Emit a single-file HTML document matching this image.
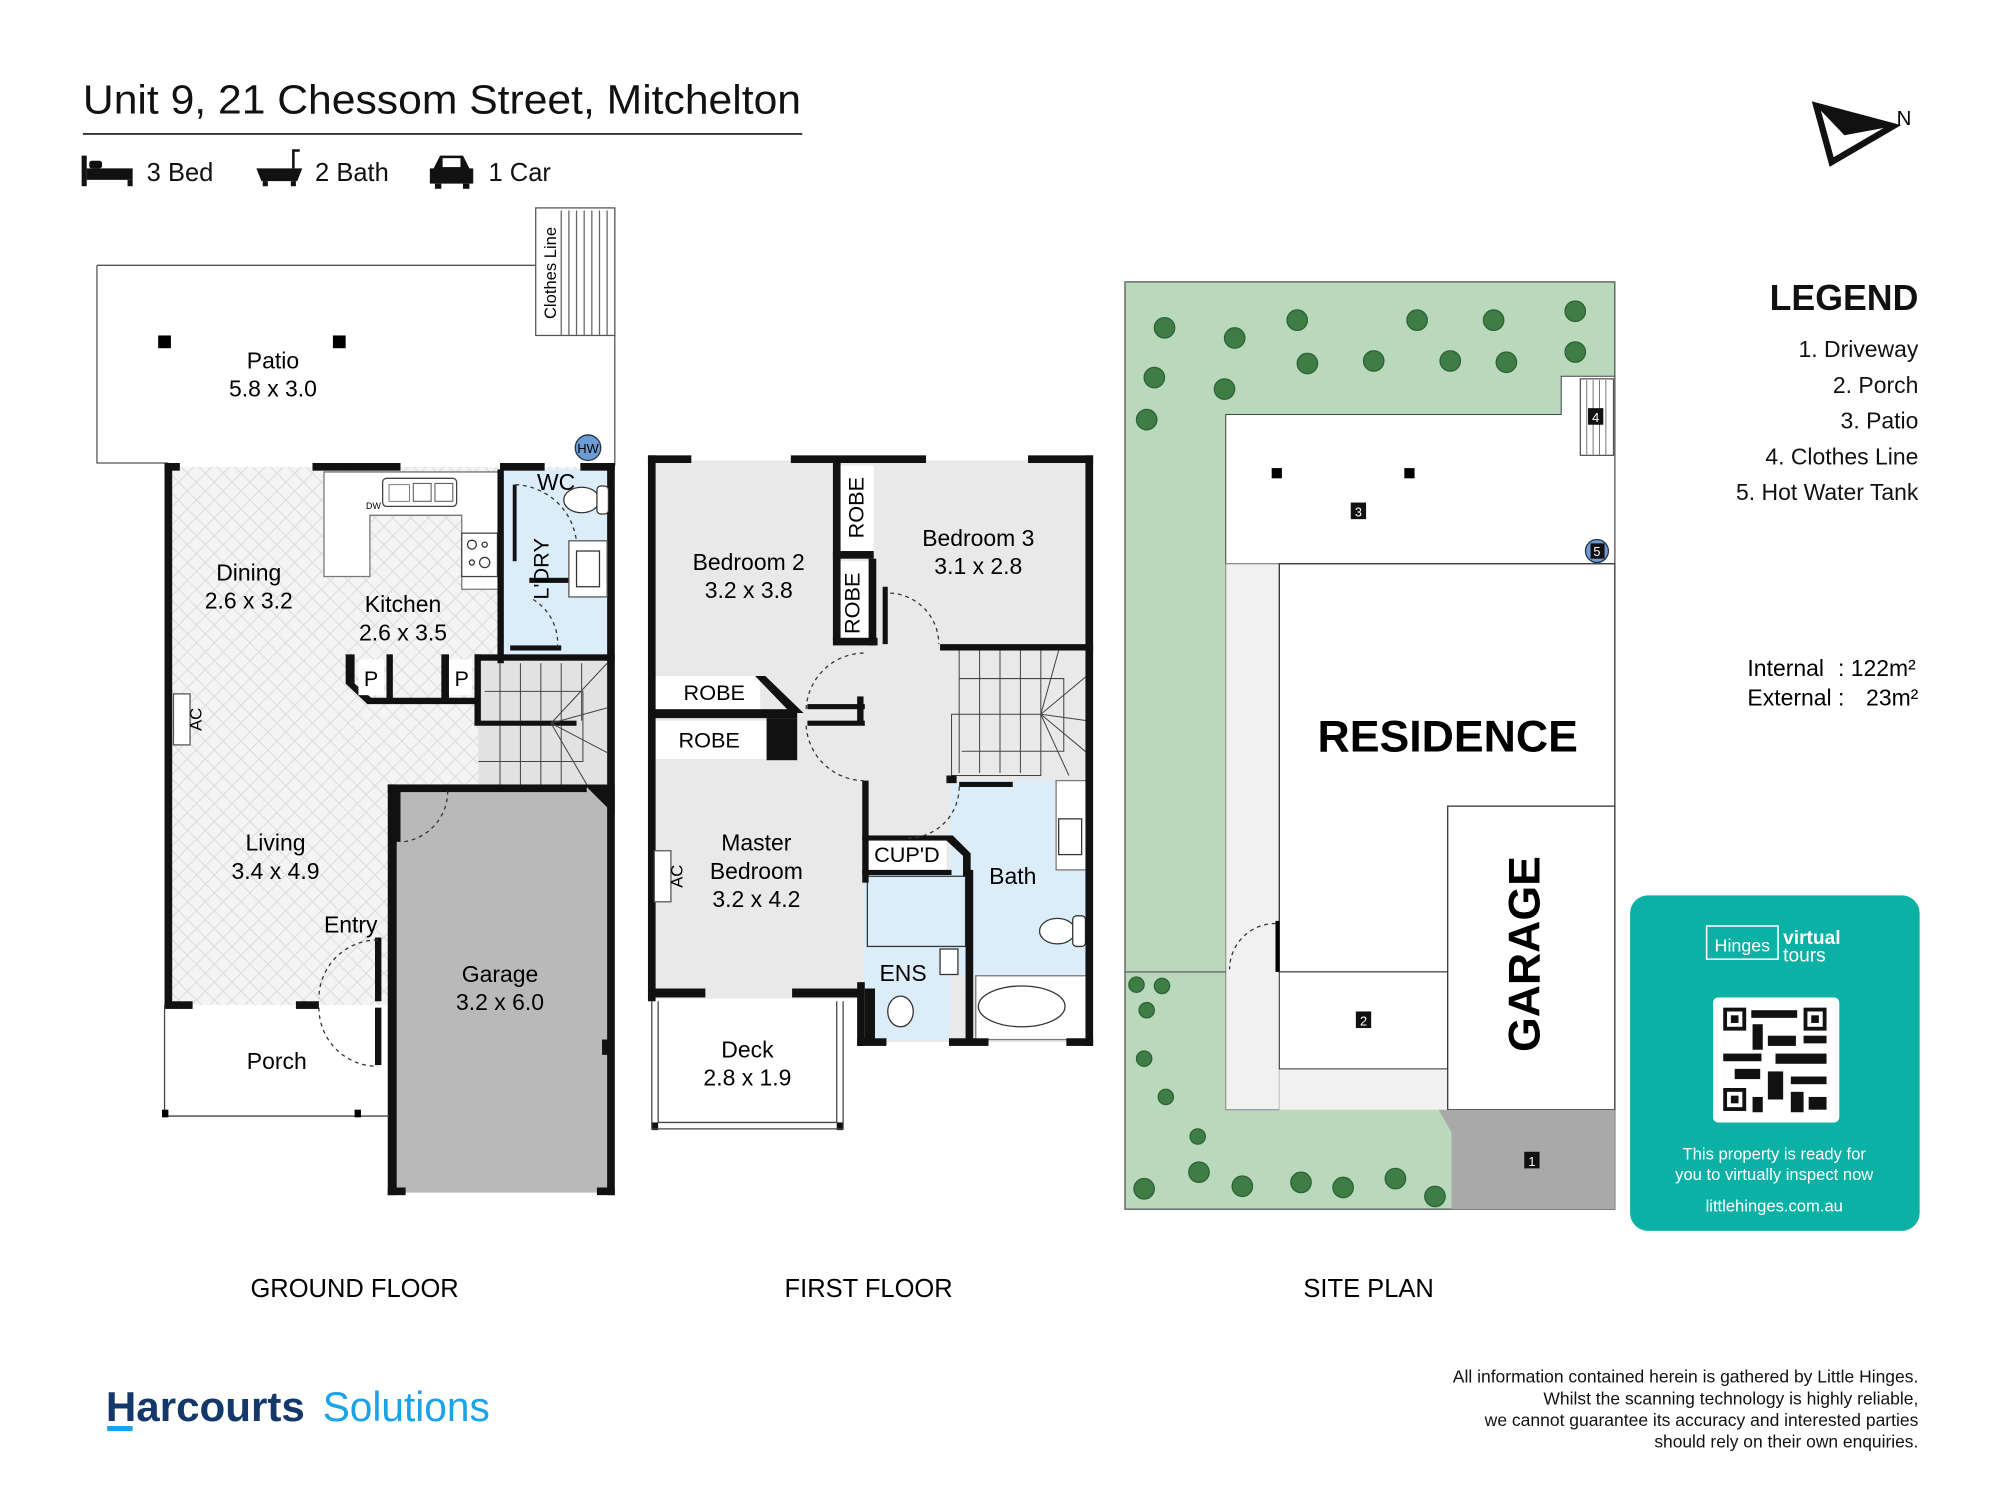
<!DOCTYPE html>
<html><head><meta charset="utf-8"><style>
html,body{margin:0;padding:0;background:#fff;}
svg{display:block;}
text{font-family:"Liberation Sans",Arial,sans-serif;}
</style></head><body>
<svg width="2000" height="1500" viewBox="0 0 1568 1176" preserveAspectRatio="none" xmlns="http://www.w3.org/2000/svg">
<defs>
<pattern id="hatch" width="14" height="14" patternUnits="userSpaceOnUse">
<rect width="14" height="14" fill="#f4f4f4"/>
<path d="M0 0L14 14M14 0L0 14" stroke="#dcdcdc" stroke-width="0.8"/>
</pattern>
</defs>
<rect width="1568" height="1176" fill="#fff"/>

<!-- Title -->
<text x="65" y="89" font-size="32" fill="#111" textLength="563" lengthAdjust="spacingAndGlyphs">Unit 9, 21 Chessom Street, Mitchelton</text>
<line x1="65" y1="105" x2="629" y2="105" stroke="#333" stroke-width="1.5"/>
<!-- icons -->
<g fill="#111">
<rect x="64" y="122" width="4" height="24"/><rect x="68" y="132" width="36" height="9"/><rect x="70" y="126" width="10" height="6" rx="2"/><rect x="100" y="141" width="4" height="5"/>
<path d="M201 132h36l-4 10h-28z"/><rect x="206" y="142" width="4" height="4"/><rect x="228" y="142" width="4" height="4"/><path d="M230 132v-14h5" fill="none" stroke="#111" stroke-width="2"/>
<path d="M340 132l5-10h18l5 10h3v12h-34v-12z"/><rect x="341" y="144" width="5" height="4"/><rect x="363" y="144" width="5" height="4"/>
</g>
<rect x="347" y="124" width="14" height="7" fill="#fff"/>
<text x="115" y="142" font-size="20" fill="#111">3 Bed</text>
<text x="247" y="142" font-size="20" fill="#111">2 Bath</text>
<text x="383" y="142" font-size="20" fill="#111">1 Car</text>

<!-- North arrow -->
<path d="M1424 83L1484 99L1436 127Z" fill="none" stroke="#111" stroke-width="5" stroke-linejoin="miter"/>
<path d="M1424 83L1484 99L1446 106Z" fill="#111"/>
<text x="1487" y="98" font-size="16">N</text>

<!-- ================= GROUND FLOOR ================= -->
<path d="M76 208H420M76 208V363H132M482 163V365" fill="none" stroke="#555" stroke-width="1"/>
<rect x="420" y="163" width="62" height="100" fill="#fff" stroke="#555" stroke-width="1"/>
<g stroke="#666" stroke-width="1"><line x1="440" y1="165" x2="440" y2="263"/><line x1="446" y1="165" x2="446" y2="263"/><line x1="452" y1="165" x2="452" y2="263"/><line x1="458" y1="165" x2="458" y2="263"/><line x1="464" y1="165" x2="464" y2="263"/><line x1="470" y1="165" x2="470" y2="263"/><line x1="476" y1="165" x2="476" y2="263"/></g>
<text transform="translate(436,214) rotate(-90)" font-size="13" text-anchor="middle">Clothes Line</text>
<rect x="124" y="263" width="10" height="10"/><rect x="261" y="263" width="10" height="10"/>
<text x="214" y="289" font-size="18" text-anchor="middle">Patio</text>
<text x="214" y="311" font-size="18" text-anchor="middle">5.8 x 3.0</text>
<circle cx="461" cy="351" r="10" fill="#6d9bd4" stroke="#234" stroke-width="1"/><text x="461" y="355" font-size="10" text-anchor="middle">HW</text>

<!-- floors -->
<rect x="132" y="366" width="347" height="422" fill="url(#hatch)"/>
<rect x="393" y="368" width="84" height="147" fill="#dcedfa"/>
<rect x="375" y="515" width="102" height="100" fill="#e2e2e2"/>
<path d="M254 370H392V462H362V404H290V452H254Z" fill="#fff" stroke="#777" stroke-width="1"/>
<rect x="300" y="375" width="58" height="22" rx="3" fill="#fff" stroke="#444"/>
<rect x="305" y="380" width="16" height="13" fill="none" stroke="#555" stroke-width="0.6"/><rect x="324" y="379" width="14" height="14" fill="none" stroke="#555" stroke-width="0.8"/><rect x="341" y="379" width="14" height="14" fill="none" stroke="#555" stroke-width="0.8"/>
<text x="287" y="399" font-size="7">DW</text>
<rect x="362" y="418" width="28" height="34" fill="#fff" stroke="#444"/>
<circle cx="370" cy="427" r="3.5" fill="none" stroke="#333"/><circle cx="380" cy="441" r="4" fill="none" stroke="#333"/><circle cx="380" cy="427" r="2" fill="none" stroke="#333"/><circle cx="370" cy="441" r="2" fill="none" stroke="#333"/>
<!-- garage -->
<path d="M307 617H460L479 636V935H307Z" fill="#b9b9b9"/>
<!-- walls ground -->
<g fill="#111">
<rect x="129" y="364" width="6" height="425"/>
<rect x="129" y="363" width="12" height="6"/><rect x="245" y="363" width="69" height="6"/><rect x="392" y="363" width="35" height="6"/><rect x="455" y="363" width="27" height="6"/>
<rect x="476" y="363" width="6" height="574"/>
<rect x="304" y="615" width="7" height="322"/>
<rect x="304" y="615" width="156" height="6"/>
<path d="M458 615h24v24z"/>
<rect x="304" y="931" width="14" height="6"/><rect x="468" y="931" width="14" height="6"/>
<rect x="390" y="368" width="5" height="152"/>
<rect x="415" y="453" width="62" height="4"/>
<rect x="400" y="506" width="40" height="4"/>
<rect x="372" y="513" width="110" height="5"/>
<rect x="372" y="513" width="5" height="55"/>
<rect x="372" y="565" width="80" height="4"/>
<path d="M271 513H278V536L291 547H372V552H288L271 536Z"/>
<rect x="303" y="513" width="5" height="38"/><rect x="346" y="513" width="6" height="38"/>
<rect x="129" y="785" width="22" height="6"/><rect x="232" y="785" width="18" height="6"/>
<rect x="294" y="735" width="5" height="50"/><rect x="294" y="790" width="5" height="45"/>
<rect x="402" y="380" width="3" height="60"/>
<rect x="310" y="620" width="4" height="40"/>
<rect x="472" y="815" width="7" height="12"/>
</g>
<rect x="281" y="517" width="20" height="28" fill="#fff"/><rect x="352" y="517" width="18" height="28" fill="#fff"/>
<text x="291" y="538" font-size="17" text-anchor="middle">P</text><text x="362" y="538" font-size="17" text-anchor="middle">P</text>
<!-- stairs lines -->
<g stroke="#444" stroke-width="0.8" fill="none">
<line x1="392" y1="520" x2="392" y2="565"/><line x1="408" y1="520" x2="408" y2="565"/><line x1="424" y1="520" x2="424" y2="565"/><line x1="440" y1="520" x2="440" y2="565"/><line x1="456" y1="520" x2="456" y2="565"/>
<line x1="392" y1="569" x2="392" y2="615"/><line x1="408" y1="569" x2="408" y2="615"/><line x1="424" y1="569" x2="424" y2="615"/><line x1="440" y1="569" x2="440" y2="615"/>
<line x1="432" y1="567" x2="476" y2="520"/><line x1="432" y1="567" x2="476" y2="555"/><line x1="432" y1="567" x2="476" y2="590"/><line x1="432" y1="567" x2="460" y2="615"/>
<path d="M380 542H457V597H375"/>
</g>
<!-- WC / laundry fixtures -->
<ellipse cx="456" cy="392" rx="14" ry="10" fill="#fff" stroke="#333"/><rect x="468" y="381" width="9" height="22" rx="3" fill="#fff" stroke="#333"/>
<rect x="446" y="424" width="30" height="44" fill="#fff" stroke="#555"/><rect x="452" y="432" width="18" height="28" fill="#fff" stroke="#333"/>
<text x="421" y="384" font-size="18">WC</text>
<text transform="translate(430,446) rotate(-90)" font-size="17" text-anchor="middle">L'DRY</text>
<g fill="none" stroke="#333" stroke-dasharray="3,3"><path d="M404 380A50 50 0 0 1 452 425"/><path d="M418 470A40 40 0 0 1 437 508"/><path d="M351 620A40 40 0 0 1 316 660"/><path d="M296 737A46 46 0 0 0 250 783"/><path d="M250 790A46 46 0 0 0 296 836"/></g>
<!-- AC -->
<rect x="136" y="544" width="13" height="40" fill="#fff" stroke="#555"/><text transform="translate(158,564) rotate(-90)" font-size="13" text-anchor="middle">AC</text>
<!-- porch -->
<path d="M129 788V875H305M282 875V870" fill="none" stroke="#444" stroke-width="1"/>
<rect x="127" y="870" width="5" height="6"/><rect x="278" y="870" width="5" height="6"/>
<text x="195" y="455" font-size="18" text-anchor="middle">Dining</text><text x="195" y="477" font-size="18" text-anchor="middle">2.6 x 3.2</text>
<text x="316" y="480" font-size="18" text-anchor="middle">Kitchen</text><text x="316" y="502" font-size="18" text-anchor="middle">2.6 x 3.5</text>
<text x="216" y="667" font-size="18" text-anchor="middle">Living</text><text x="216" y="689" font-size="18" text-anchor="middle">3.4 x 4.9</text>
<text x="275" y="731" font-size="18" text-anchor="middle">Entry</text>
<text x="392" y="770" font-size="18" text-anchor="middle">Garage</text><text x="392" y="792" font-size="18" text-anchor="middle">3.2 x 6.0</text>
<text x="217" y="838" font-size="18" text-anchor="middle">Porch</text>

<!-- ================= FIRST FLOOR ================= -->
<rect x="511" y="361" width="342" height="422" fill="#e9e9e9"/>
<rect x="672" y="783" width="181" height="34" fill="#e9e9e9"/>
<rect x="745" y="612" width="107" height="153" fill="#dcedfa"/>
<rect x="677" y="685" width="68" height="130" fill="#dcedfa"/>
<rect x="765" y="765" width="87" height="50" fill="#fff" stroke="#777"/>
<ellipse cx="801" cy="789" rx="34" ry="16" fill="#fff" stroke="#333"/>
<rect x="828" y="612" width="24" height="70" fill="#fff" stroke="#777"/>
<rect x="830" y="642" width="18" height="28" fill="#fff" stroke="#333"/>
<ellipse cx="829" cy="730" rx="14" ry="10" fill="#fff" stroke="#333"/><rect x="841" y="718" width="10" height="24" rx="3" fill="#fff" stroke="#333"/>
<rect x="680" y="687" width="77" height="55" fill="#dcedfa" stroke="#333"/>
<ellipse cx="706" cy="793" rx="10" ry="12" fill="#fff" stroke="#333"/>
<rect x="737" y="744" width="14" height="20" fill="#fff" stroke="#333"/>
<rect x="746" y="508" width="106" height="100" fill="#e9e9e9"/>
<g stroke="#444" stroke-width="0.8" fill="none">
<line x1="752" y1="510" x2="752" y2="560"/><line x1="768" y1="510" x2="768" y2="560"/><line x1="784" y1="510" x2="784" y2="560"/><line x1="800" y1="510" x2="800" y2="560"/><line x1="816" y1="510" x2="816" y2="560"/>
<line x1="752" y1="560" x2="752" y2="606"/><line x1="768" y1="560" x2="768" y2="606"/><line x1="784" y1="560" x2="784" y2="606"/><line x1="800" y1="560" x2="800" y2="606"/>
<rect x="746" y="560" width="70" height="48"/>
<line x1="816" y1="560" x2="852" y2="530"/><line x1="816" y1="560" x2="852" y2="565"/><line x1="816" y1="560" x2="852" y2="590"/><line x1="816" y1="560" x2="838" y2="608"/><line x1="816" y1="560" x2="830" y2="510"/>
<path d="M754 589H834V532H752"/>
</g>
<!-- robes -->
<rect x="657" y="365" width="28" height="70" fill="#fff"/><rect x="657" y="440" width="24" height="62" fill="#fff"/>
<rect x="513" y="530" width="83" height="28" fill="#fff"/><rect x="513" y="565" width="88" height="30" fill="#fff"/>
<rect x="680" y="657" width="62" height="26" fill="#fff"/>
<g fill="#111">
<rect x="508" y="357" width="6" height="428"/>
<rect x="508" y="357" width="34" height="6"/><rect x="620" y="357" width="106" height="6"/><rect x="806" y="357" width="51" height="6"/>
<rect x="851" y="357" width="6" height="463"/>
<rect x="653" y="360" width="6" height="142"/><rect x="653" y="432" width="32" height="6"/><rect x="681" y="438" width="6" height="68"/>
<rect x="653" y="500" width="35" height="6"/><rect x="692" y="460" width="4" height="45"/>
<rect x="737" y="505" width="120" height="5"/>
<rect x="513" y="556" width="112" height="7"/>
<path d="M592 530h8l30 29h-10z"/>
<rect x="601" y="563" width="24" height="33"/>
<rect x="633" y="552" width="45" height="4"/><rect x="633" y="565" width="45" height="4"/><rect x="672" y="546" width="5" height="20"/>
<rect x="508" y="775" width="45" height="7"/><rect x="621" y="775" width="56" height="7"/>
<rect x="676" y="612" width="5" height="80"/>
<rect x="676" y="655" width="70" height="4"/><rect x="676" y="682" width="70" height="4"/>
<path d="M742 655h5l14 14v18h-6v-16l-13-12z"/>
<rect x="742" y="608" width="8" height="6"/><rect x="752" y="613" width="42" height="4"/>
<rect x="757" y="682" width="6" height="135"/>
<rect x="672" y="770" width="6" height="50"/><rect x="678" y="775" width="8" height="40"/>
<rect x="672" y="814" width="23" height="6"/><rect x="744" y="814" width="31" height="6"/><rect x="836" y="814" width="21" height="6"/>
<rect x="511" y="880" width="5" height="6"/><rect x="656" y="880" width="5" height="6"/>
</g>
<path d="M511 785V885H661V785M516 785V880M656 785V880M516 880H656" fill="none" stroke="#444" stroke-width="1"/>
<g fill="none" stroke="#333" stroke-dasharray="3,3"><path d="M698 465A40 40 0 0 1 736 505"/><path d="M677 512A46 46 0 0 0 632 556"/><path d="M632 569A46 46 0 0 0 677 612"/><path d="M752 617A40 40 0 0 1 712 657"/></g>
<rect x="513" y="667" width="13" height="40" fill="#fff" stroke="#555"/><text transform="translate(535,687) rotate(-90)" font-size="13" text-anchor="middle">AC</text>
<text transform="translate(677,398) rotate(-90)" font-size="17" text-anchor="middle">ROBE</text>
<text transform="translate(674,473) rotate(-90)" font-size="17" text-anchor="middle">ROBE</text>
<text x="560" y="549" font-size="17" text-anchor="middle">ROBE</text>
<text x="556" y="586" font-size="17" text-anchor="middle">ROBE</text>
<text x="711" y="676" font-size="17" text-anchor="middle">CUP'D</text>
<text x="587" y="447" font-size="18" text-anchor="middle">Bedroom 2</text><text x="587" y="469" font-size="18" text-anchor="middle">3.2 x 3.8</text>
<text x="767" y="428" font-size="18" text-anchor="middle">Bedroom 3</text><text x="767" y="450" font-size="18" text-anchor="middle">3.1 x 2.8</text>
<text x="593" y="667" font-size="18" text-anchor="middle">Master</text><text x="593" y="689" font-size="18" text-anchor="middle">Bedroom</text><text x="593" y="711" font-size="18" text-anchor="middle">3.2 x 4.2</text>
<text x="794" y="693" font-size="18" text-anchor="middle">Bath</text>
<text x="708" y="769" font-size="18" text-anchor="middle">ENS</text>
<text x="586" y="829" font-size="18" text-anchor="middle">Deck</text><text x="586" y="851" font-size="18" text-anchor="middle">2.8 x 1.9</text>

<!-- ================= SITE PLAN ================= -->
<rect x="882" y="221" width="384" height="727" fill="#b9d8bc" stroke="#555" stroke-width="1"/>
<path d="M961 325H1224V295H1266V442H961Z" fill="#fff" stroke="#444" stroke-width="0.8"/>
<rect x="961" y="442" width="42" height="428" fill="#f1f1f1" stroke="#888" stroke-width="0.8"/>
<rect x="1003" y="838" width="132" height="32" fill="#f1f1f1"/>
<rect x="1003" y="442" width="263" height="320" fill="#fff" stroke="#333" stroke-width="1"/>
<rect x="1003" y="762" width="132" height="76" fill="#fff" stroke="#333" stroke-width="0.8"/>
<rect x="1135" y="632" width="131" height="238" fill="#fff" stroke="#333" stroke-width="1"/>
<path d="M1128 870H1266V948H1138V888Z" fill="#a9a9a9"/>
<rect x="1239" y="297" width="26" height="60" fill="#fff" stroke="#555"/>
<g stroke="#777" stroke-width="0.8"><line x1="1244" y1="298" x2="1244" y2="357"/><line x1="1249" y1="298" x2="1249" y2="357"/><line x1="1254" y1="298" x2="1254" y2="357"/><line x1="1259" y1="298" x2="1259" y2="357"/></g>
<rect x="997" y="367" width="8" height="8"/><rect x="1101" y="367" width="8" height="8"/>
<rect x="1000" y="722" width="3" height="40"/>
<path d="M1000 724A36 36 0 0 0 964 760" fill="none" stroke="#333" stroke-dasharray="3,3"/>
<g font-size="10" text-anchor="middle" fill="#fff">
<rect x="1245" y="320" width="12" height="13" fill="#111"/><text x="1251" y="331">4</text>
<rect x="1059" y="394" width="12" height="13" fill="#111"/><text x="1065" y="405">3</text>
<circle cx="1252" cy="432" r="9" fill="#6d9bd4" stroke="#234"/><rect x="1247" y="426" width="11" height="12" fill="#111"/><text x="1252" y="436">5</text>
<rect x="1063" y="793" width="12" height="13" fill="#111"/><text x="1069" y="804">2</text>
<rect x="1195" y="903" width="12" height="13" fill="#111"/><text x="1201" y="914">1</text>
</g>
<text x="1135" y="589" font-size="35" font-weight="bold" text-anchor="middle">RESIDENCE</text>
<text transform="translate(1207,748) rotate(-90)" font-size="35" font-weight="bold" text-anchor="middle">GARAGE</text>
<g fill="#3f7d47" stroke="#2d6234" stroke-width="1">
<circle cx="913" cy="257" r="8"/><circle cx="968" cy="265" r="8"/><circle cx="1017" cy="251" r="8"/><circle cx="1111" cy="251" r="8"/><circle cx="1171" cy="251" r="8"/><circle cx="1235" cy="244" r="8"/>
<circle cx="905" cy="296" r="8"/><circle cx="960" cy="305" r="8"/><circle cx="1025" cy="285" r="8"/><circle cx="1077" cy="283" r="8"/><circle cx="1137" cy="283" r="8"/><circle cx="1181" cy="284" r="8"/><circle cx="1235" cy="276" r="8"/>
<circle cx="899" cy="329" r="8"/>
<circle cx="891" cy="772" r="6"/><circle cx="911" cy="773" r="6"/><circle cx="899" cy="792" r="6"/><circle cx="897" cy="830" r="6"/><circle cx="914" cy="860" r="6"/><circle cx="939" cy="891" r="6"/>
<circle cx="897" cy="932" r="8"/><circle cx="940" cy="919" r="8"/><circle cx="974" cy="930" r="8"/><circle cx="1020" cy="927" r="8"/><circle cx="1053" cy="931" r="8"/><circle cx="1094" cy="924" r="8"/><circle cx="1125" cy="938" r="8"/>
</g>
<path d="M882 762H961" stroke="#555" stroke-width="0.8"/>

<!-- Legend -->
<g text-anchor="end" fill="#111">
<text x="1504" y="243" font-size="28" font-weight="bold">LEGEND</text>
<text x="1504" y="280" font-size="18">1. Driveway</text>
<text x="1504" y="308" font-size="18">2. Porch</text>
<text x="1504" y="336" font-size="18">3. Patio</text>
<text x="1504" y="364" font-size="18">4. Clothes Line</text>
<text x="1504" y="392" font-size="18">5. Hot Water Tank</text>
</g>
<text x="1370" y="530" font-size="18">Internal</text><text x="1441" y="530" font-size="18">: 122m²</text>
<text x="1370" y="553" font-size="18">External :</text><text x="1463" y="553" font-size="18">23m²</text>

<!-- QR card -->
<rect x="1278" y="702" width="227" height="263" rx="14" fill="#0cb1a6"/>
<rect x="1338" y="726" width="56" height="26" fill="none" stroke="#fff" stroke-width="1.2"/>
<text x="1366" y="746" font-size="14" fill="#fff" text-anchor="middle">Hinges</text>
<text x="1398" y="740" font-size="15" fill="#fff" font-weight="bold">virtual</text>
<text x="1398" y="754" font-size="15" fill="#fff">tours</text>
<rect x="1343" y="782" width="99" height="98" rx="4" fill="#fff"/>
<g fill="#111">
<rect x="1351" y="790" width="18" height="18"/><rect x="1414" y="790" width="18" height="18"/><rect x="1351" y="853" width="18" height="18"/>
<rect x="1373" y="792" width="36" height="6"/><rect x="1374" y="803" width="8" height="20"/><rect x="1386" y="812" width="22" height="8"/><rect x="1351" y="826" width="30" height="6"/><rect x="1392" y="826" width="40" height="8"/><rect x="1360" y="838" width="20" height="8"/><rect x="1386" y="840" width="12" height="22"/><rect x="1404" y="844" width="28" height="6"/><rect x="1374" y="860" width="8" height="12"/><rect x="1404" y="856" width="10" height="16"/><rect x="1418" y="860" width="14" height="10"/><rect x="1414" y="812" width="18" height="6"/>
</g>
<g fill="#fff"><rect x="1354" y="793" width="12" height="12"/><rect x="1417" y="793" width="12" height="12"/><rect x="1354" y="856" width="12" height="12"/></g>
<g fill="#111"><rect x="1357" y="796" width="6" height="6"/><rect x="1420" y="796" width="6" height="6"/><rect x="1357" y="859" width="6" height="6"/></g>
<text x="1391" y="909" font-size="13" fill="#fff" text-anchor="middle">This property is ready for</text>
<text x="1391" y="925" font-size="13" fill="#fff" text-anchor="middle">you to virtually inspect now</text>
<text x="1391" y="950" font-size="13" fill="#fff" text-anchor="middle">littlehinges.com.au</text>

<!-- floor labels -->
<text x="278" y="1017" font-size="20" text-anchor="middle">GROUND FLOOR</text>
<text x="681" y="1017" font-size="20" text-anchor="middle">FIRST FLOOR</text>
<text x="1073" y="1017" font-size="20" text-anchor="middle">SITE PLAN</text>

<!-- footer -->
<text x="83" y="1114" font-size="33" font-weight="bold" fill="#14386a" textLength="156" lengthAdjust="spacingAndGlyphs">Harcourts</text>
<rect x="84" y="1118" width="20" height="4" fill="#1aa3e8"/>
<text x="253" y="1114" font-size="33" fill="#1aa3e8" textLength="131" lengthAdjust="spacingAndGlyphs">Solutions</text>
<g text-anchor="end" font-size="13.5" fill="#111">
<text x="1504" y="1084" textLength="365" lengthAdjust="spacingAndGlyphs">All information contained herein is gathered by Little Hinges.</text>
<text x="1504" y="1101" textLength="294" lengthAdjust="spacingAndGlyphs">Whilst the scanning technology is highly reliable,</text>
<text x="1504" y="1118" textLength="340" lengthAdjust="spacingAndGlyphs">we cannot guarantee its accuracy and interested parties</text>
<text x="1504" y="1135" textLength="207" lengthAdjust="spacingAndGlyphs">should rely on their own enquiries.</text>
</g>
</svg>
</body></html>
